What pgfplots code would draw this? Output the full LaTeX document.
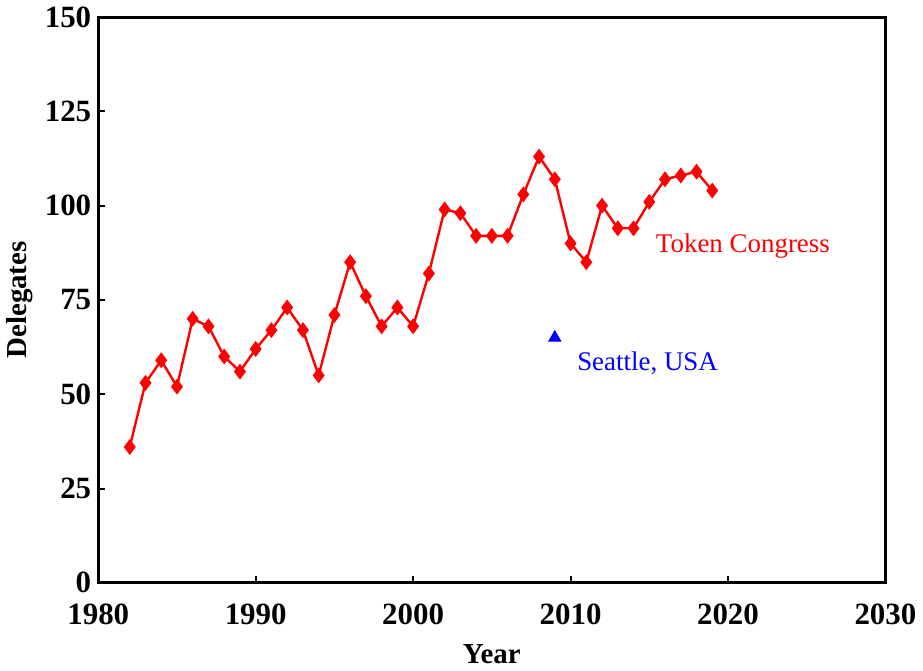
\documentclass[border=0pt]{standalone}
\usepackage{fontspec}
\setmainfont{Liberation Serif}
\usepackage{pgfplots}
\pgfplotsset{compat=1.18}
\begin{document}
\begin{tikzpicture}
\begin{axis}[
  scale only axis,
  width=394.5pt, height=283.5pt,
  xmin=1980, xmax=2030, ymin=0, ymax=150,
  xtick={1980,1990,...,2030}, ytick={0,25,...,150},
  tick align=inside, tick pos=left,
  major tick length=3.5pt,
  axis line style={line width=1.5pt},
  every tick/.style={black, line width=1pt},
  /pgf/number format/assume math mode=true,
  /pgf/number format/1000 sep={},
  ticklabel style={font=\fontsize{15.5}{17}\selectfont\bfseries},
  xticklabel style={yshift=-7pt},
  xlabel={Year}, ylabel={Delegates},
  label style={font=\fontsize{14.5}{16}\selectfont\bfseries},
  xlabel style={yshift=-3pt},
  ylabel style={yshift=-1pt},
  clip=false,
]
\addplot[red, line width=1.2pt, mark=diamond*, mark size=3pt, mark options={solid, fill=red}] coordinates {
(1982,36) (1983,53) (1984,59) (1985,52) (1986,70) (1987,68) (1988,60) (1989,56)
(1990,62) (1991,67) (1992,73) (1993,67) (1994,55) (1995,71) (1996,85) (1997,76)
(1998,68) (1999,73) (2000,68) (2001,82) (2002,99) (2003,98) (2004,92) (2005,92)
(2006,92) (2007,103) (2008,113) (2009,107) (2010,90) (2011,85) (2012,100) (2013,94)
(2014,94) (2015,101) (2016,107) (2017,108) (2018,109) (2019,104)
};
\addplot[only marks, blue, mark=triangle*, mark size=3.5pt] coordinates {(2009,65)};
\node[anchor=west, red, font=\fontsize{13.5}{16}\selectfont, inner sep=0pt] at (axis cs:2015.4,89.4) {Token Congress};
\node[anchor=west, blue, font=\fontsize{13.5}{16}\selectfont, inner sep=0pt] at (axis cs:2010.4,58.2) {Seattle, USA};
\end{axis}
\end{tikzpicture}
\end{document}
